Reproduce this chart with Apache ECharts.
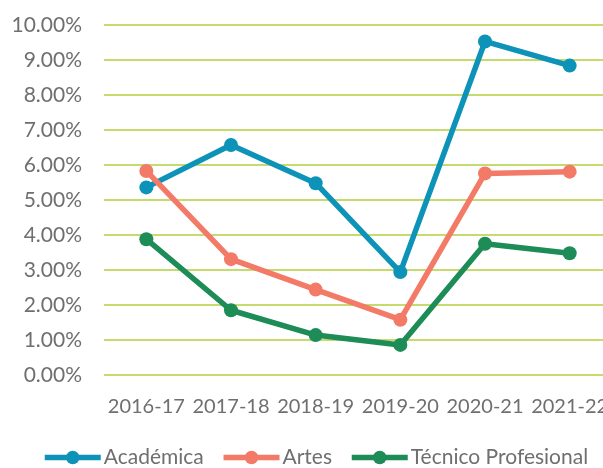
<!DOCTYPE html>
<html>
<head>
<meta charset="utf-8">
<script src="https://cdn.jsdelivr.net/npm/echarts@6/dist/echarts.min.js"></script>
<style>
  html, body { margin: 0; padding: 0; background: #fff; overflow: hidden; }
  #chart { width: 612px; height: 468px; }
</style>
</head>
<body>
<div id="chart"></div>
<script>
const years = ['2016-17', '2017-18', '2018-19', '2019-20', '2020-21', '2021-22'];
const academica = [5.36, 6.57, 5.48, 2.94, 9.53, 8.84];
const artes = [5.83, 3.31, 2.44, 1.58, 5.76, 5.81];
const tecnico = [3.88, 1.85, 1.14, 0.86, 3.75, 3.48];

const font = 'Lato, "Open Sans", sans-serif';

const makeSeries = (name, data, color) => ({
  name,
  type: 'line',
  data,
  symbol: 'circle',
  symbolSize: 14,
  itemStyle: { color },
  lineStyle: { width: 5.5, color }
});

const chart = echarts.init(document.getElementById('chart'));
chart.setOption({
  animation: false,
  grid: { left: 104, right: 0, top: 25, bottom: 93, containLabel: false },
  xAxis: {
    type: 'category',
    data: years,
    axisLine: { show: false },
    axisTick: { show: false },
    axisLabel: { color: '#6f6f6f', fontSize: 20, fontFamily: font, margin: 22, interval: 0 }
  },
  yAxis: {
    type: 'value',
    min: 0,
    max: 10,
    interval: 1,
    axisLine: { show: false },
    axisTick: { show: false },
    axisLabel: {
      color: '#6f6f6f', fontSize: 21, fontFamily: font, margin: 22,
      formatter: v => v.toFixed(2) + '%'
    },
    splitLine: { lineStyle: { color: '#c5db6e', width: 2 } }
  },
  legend: {
    top: 442,
    left: 37,
    itemWidth: 56,
    itemHeight: 17,
    itemGap: 17,
    lineStyle: { width: 5.5 },
    textStyle: { color: '#6f6f6f', fontSize: 21, fontFamily: font, padding: [0, 0, 0, -2] }
  },
  series: [
    makeSeries('Académica', academica, '#0d93b8'),
    makeSeries('Artes', artes, '#f47a68'),
    makeSeries('Técnico Profesional', tecnico, '#1d8c56')
  ]
});
</script>
</body>
</html>
